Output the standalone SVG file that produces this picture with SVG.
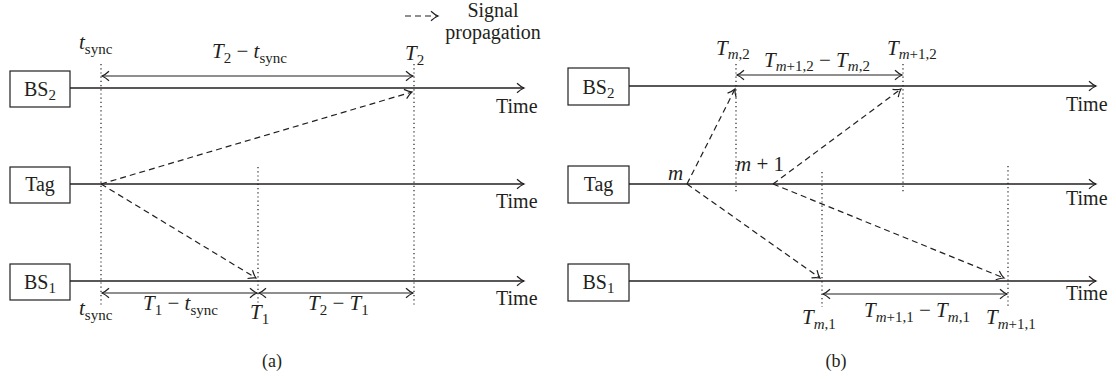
<svg xmlns="http://www.w3.org/2000/svg" width="1116" height="379" viewBox="0 0 1116 379" font-family="'Liberation Serif', 'DejaVu Serif', serif">
<style>
text{font-family:'Liberation Serif','DejaVu Serif',serif;font-size:20px;fill:#231f20}
.lb{font-size:21px;font-style:italic}
.it{font-style:italic}
.up{font-style:normal}
.sub{font-size:15px;font-style:normal}
.subi{font-size:15px;font-style:italic}
.box{fill:#fff;stroke:#231f20;stroke-width:1.2}
.tl{stroke:#231f20;stroke-width:1.3;fill:none;marker-end:url(#ah)}
.dim{stroke:#231f20;stroke-width:1.2;fill:none;marker-end:url(#ah);marker-start:url(#ah)}
.dash{stroke:#231f20;stroke-width:1.2;fill:none;stroke-dasharray:6 4;marker-end:url(#ah)}
.dot{stroke:#231f20;stroke-width:1.2;fill:none;stroke-dasharray:1.2 3}
</style>
<defs>
<marker id="ah" viewBox="-10 -6 12 12" refX="0" refY="0" markerWidth="12" markerHeight="12" markerUnits="userSpaceOnUse" orient="auto-start-reverse">
<path d="M-7,-4.8 C-4,-2 -1.5,-0.6 0,0 C-1.5,0.6 -4,2 -7,4.8" fill="none" stroke="#231f20" stroke-width="1.2"/>
</marker>
</defs>

<!-- Panel (a) -->
<g id="a-bs2"><rect class="box" x="10" y="71" width="60" height="36"/><text x="40" y="96" text-anchor="middle">BS<tspan class="sub" dy="4">2</tspan></text></g>
<g id="a-tag"><rect class="box" x="10" y="167" width="60" height="36"/><text x="40" y="191" text-anchor="middle">Tag</text></g>
<g id="a-bs1"><rect class="box" x="10" y="264" width="60" height="36"/><text x="40" y="289" text-anchor="middle">BS<tspan class="sub" dy="4">1</tspan></text></g>

<g id="a-connectors">
<line class="tl" x1="70" y1="88" x2="524" y2="88"/>
<line class="tl" x1="70" y1="184" x2="524" y2="184"/>
<line class="tl" x1="70" y1="281" x2="524" y2="281"/>
<line class="dot" x1="101" y1="64" x2="101" y2="307"/>
<line class="dot" x1="414" y1="64" x2="414" y2="307"/>
<line class="dot" x1="258" y1="167" x2="258" y2="307"/>
<line class="dim" x1="102" y1="76" x2="413" y2="76"/>
<line class="dim" x1="102" y1="293" x2="257" y2="293"/>
<line class="dim" x1="259" y1="293" x2="413" y2="293"/>
<line class="dash" x1="101" y1="184" x2="412" y2="92"/>
<line class="dash" x1="101" y1="184" x2="256" y2="278"/>
<line class="dash" x1="405" y1="16" x2="438" y2="16"/>
</g>

<g id="a-labels">
<text x="496" y="113">Time</text>
<text x="496" y="208">Time</text>
<text x="496" y="305">Time</text>
<text class="lb" x="79" y="49">t<tspan class="sub" dy="5">sync</tspan></text>
<text class="lb" x="212" y="58">T<tspan class="sub" dy="5">2</tspan><tspan class="up" dy="-5"> − </tspan>t<tspan class="sub" dy="5">sync</tspan></text>
<text class="lb" x="405" y="60">T<tspan class="sub" dy="5">2</tspan></text>
<text class="lb" x="79" y="315">t<tspan class="sub" dy="5">sync</tspan></text>
<text class="lb" x="143" y="310">T<tspan class="sub" dy="5">1</tspan><tspan class="up" dy="-5"> − </tspan>t<tspan class="sub" dy="5">sync</tspan></text>
<text class="lb" x="250" y="319">T<tspan class="sub" dy="5">1</tspan></text>
<text class="lb" x="308" y="310">T<tspan class="sub" dy="5">2</tspan><tspan class="up" dy="-5"> − </tspan>T<tspan class="sub" dy="5">1</tspan></text>
<text x="493" y="17" text-anchor="middle">Signal</text>
<text x="493" y="39" text-anchor="middle">propagation</text>
<text x="272" y="367" text-anchor="middle" style="font-size:18px">(a)</text>
</g>

<!-- Panel (b) -->
<g id="b-bs2"><rect class="box" x="568" y="68" width="61" height="37"/><text x="598.5" y="94" text-anchor="middle">BS<tspan class="sub" dy="4">2</tspan></text></g>
<g id="b-tag"><rect class="box" x="568" y="166" width="61" height="37"/><text x="598.5" y="191" text-anchor="middle">Tag</text></g>
<g id="b-bs1"><rect class="box" x="568" y="264" width="61" height="37"/><text x="598.5" y="289" text-anchor="middle">BS<tspan class="sub" dy="4">1</tspan></text></g>

<g id="b-connectors">
<line class="tl" x1="629" y1="86" x2="1096" y2="86"/>
<line class="tl" x1="629" y1="184" x2="1096" y2="184"/>
<line class="tl" x1="629" y1="281" x2="1096" y2="281"/>
<line class="dot" x1="736" y1="64" x2="736" y2="194"/>
<line class="dot" x1="903" y1="64" x2="903" y2="194"/>
<line class="dot" x1="822" y1="172" x2="822" y2="307"/>
<line class="dot" x1="1008" y1="166" x2="1008" y2="307"/>
<line class="dim" x1="737" y1="75" x2="902" y2="75"/>
<line class="dim" x1="823" y1="294" x2="1007" y2="294"/>
<line class="dash" x1="687" y1="184" x2="735" y2="89"/>
<line class="dash" x1="773" y1="184" x2="901" y2="89"/>
<line class="dash" x1="687" y1="184" x2="820" y2="278"/>
<line class="dash" x1="773" y1="184" x2="1004" y2="278"/>
</g>

<g id="b-labels">
<text x="1066" y="111">Time</text>
<text x="1066" y="205">Time</text>
<text x="1066" y="300">Time</text>
<text class="lb" x="716" y="55">T<tspan class="subi" dy="4">m</tspan><tspan class="sub">,2</tspan></text>
<text class="lb" x="764" y="67">T<tspan class="subi" dy="4">m</tspan><tspan class="sub">+1,2</tspan><tspan class="up" dy="-4"> − </tspan>T<tspan class="subi" dy="4">m</tspan><tspan class="sub">,2</tspan></text>
<text class="lb" x="887" y="55">T<tspan class="subi" dy="4">m</tspan><tspan class="sub">+1,2</tspan></text>
<text class="lb" x="668" y="180">m</text>
<text class="lb" x="736" y="171">m<tspan class="up"> + 1</tspan></text>
<text class="lb" x="802" y="324">T<tspan class="subi" dy="5">m</tspan><tspan class="sub">,1</tspan></text>
<text class="lb" x="864" y="317">T<tspan class="subi" dy="5">m</tspan><tspan class="sub">+1,1</tspan><tspan class="up" dy="-5"> − </tspan>T<tspan class="subi" dy="5">m</tspan><tspan class="sub">,1</tspan></text>
<text class="lb" x="986" y="324">T<tspan class="subi" dy="5">m</tspan><tspan class="sub">+1,1</tspan></text>
<text x="836" y="367" text-anchor="middle" style="font-size:18px">(b)</text>
</g>
</svg>
